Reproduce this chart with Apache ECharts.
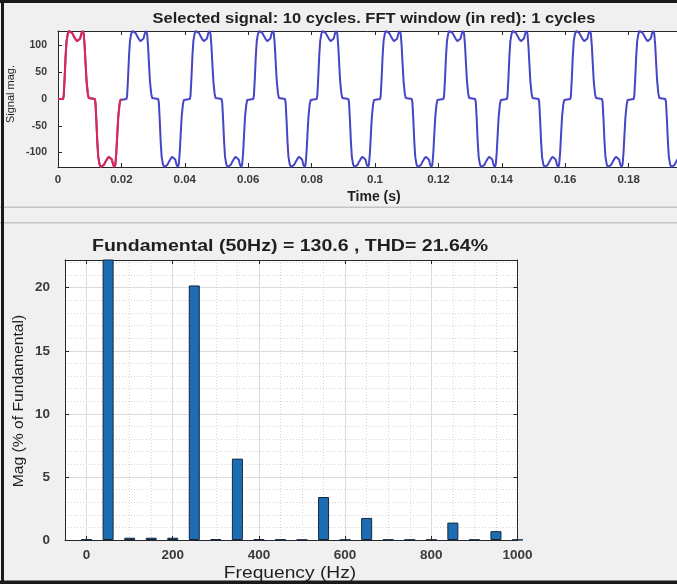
<!DOCTYPE html>
<html><head><meta charset="utf-8">
<script src="https://cdn.jsdelivr.net/npm/echarts@6/dist/echarts.min.js"></script>
<style>html,body{margin:0;padding:0;background:#f0f0f0;overflow:hidden}#c{width:677px;height:584px}</style>
</head><body><div id="c"></div>
<script>
// ---- Data ----
// one period (0.02 s) of the selected signal
const cycleTime = [0, 0.0016, 0.0018, 0.0021, 0.0024, 0.0027, 0.0031, 0.0035, 0.0040, 0.0045, 0.0050, 0.0055, 0.0060, 0.0066, 0.0070, 0.0074, 0.0078, 0.0081, 0.0084, 0.0087, 0.0090, 0.0094, 0.0097, 0.0100,
  0.0116, 0.0118, 0.0121, 0.0124, 0.0127, 0.0131, 0.0135, 0.0140, 0.0145, 0.0150, 0.0155, 0.0160, 0.0166, 0.0170, 0.0174, 0.0178, 0.0181, 0.0184, 0.0187, 0.0190, 0.0194, 0.0197];
const cycleValue = [0, 0, 6, 40, 80, 108, 122, 127, 127, 123, 117, 112, 108, 106, 113, 123, 127, 122, 100, 66, 34, 10, 2, 0,
  0, -6, -40, -80, -108, -122, -127, -127, -123, -117, -112, -108, -106, -113, -123, -127, -122, -100, -66, -34, -10, -2];
const period = 0.02;
const cycleCount = 10;   // selected signal: 10 cycles
const fftCycles = 1;     // FFT window (in red): 1 cycle

const timeTicks = [0, 0.02, 0.04, 0.06, 0.08, 0.1, 0.12, 0.14, 0.16, 0.18, 0.2];
const signalTicks = [-100, -50, 0, 50, 100];

const harmonicFreq = [0, 50, 100, 150, 200, 250, 300, 350, 400, 450, 500, 550, 600, 650, 700, 750, 800, 850, 900, 950, 1000];
const harmonicMag  = [0.04, 100, 0.18, 0.18, 0.18, 20.18, 0.06, 6.45, 0.05, 0.04, 0.02, 3.41, 0.02, 1.75, 0.02, 0.02, 0.02, 1.38, 0.02, 0.70, 0.02];
const freqTicks = [0, 200, 400, 600, 800, 1000];
const magTicks = [0, 5, 10, 15, 20];

const topTitle = 'Selected signal: 10 cycles. FFT window (in red): 1 cycles';
const bottomTitle = 'Fundamental (50Hz) = 130.6 , THD= 21.64%';

// ---- Build series data from the read cycle ----
function buildSignal(nCycles) {
  const out = [];
  for (let k = 0; k < nCycles; k++) {
    for (let i = 0; i < cycleTime.length; i++) {
      out.push([+(k * period + cycleTime[i]).toFixed(5), cycleValue[i]]);
    }
  }
  out.push([+(nCycles * period).toFixed(5), cycleValue[0]]);
  return out;
}
const signalData = buildSignal(cycleCount);
const fftData = buildSignal(fftCycles);
const barData = harmonicFreq.map((f, i) => [f, harmonicMag[i]]);

const axisColor = '#262626';
const labelColor = '#3a3a3a';
const font = 'Liberation Sans, Arial, sans-serif';
const plain = v => String(v);

function txt(x, y, text, f, opts) {
  return Object.assign({ type: 'text', x: x, y: y, z: 50,
    style: { text: text, font: f, fill: '#1f1f1f', align: 'center', verticalAlign: 'middle', textAlign: 'center', textVerticalAlign: 'middle' } }, opts || {});
}

const chart = echarts.init(document.getElementById('c'));
chart.setOption({
  backgroundColor: '#f0f0f0',
  animation: false,
  grid: [
    { left: 58, top: 31, width: 634, height: 136, show: true, backgroundColor: '#ffffff', borderWidth: 0, containLabel: false, outerBoundsMode: 'none' },
    { left: 65, top: 260, width: 452.5, height: 280, show: true, backgroundColor: '#ffffff', borderWidth: 0, containLabel: false, outerBoundsMode: 'none' }
  ],
  xAxis: [
    { gridIndex: 0, type: 'value', min: 0, max: 0.2, position: 'bottom',
      axisLine: { show: true, onZero: false, lineStyle: { color: axisColor, width: 1 } },
      axisTick: { show: true, inside: true, length: 4, customValues: timeTicks, lineStyle: { color: axisColor } },
      axisLabel: { customValues: timeTicks, formatter: plain, fontSize: 11.5, fontWeight: 'bold', color: labelColor, fontFamily: font, margin: 7 },
      splitLine: { show: false } },
    { gridIndex: 0, type: 'value', min: 0, max: 0.2, position: 'top',
      axisLine: { show: true, onZero: false, lineStyle: { color: axisColor, width: 1 } },
      axisTick: { show: true, inside: true, length: 4, customValues: timeTicks, lineStyle: { color: axisColor } },
      axisLabel: { show: false }, splitLine: { show: false } },
    { gridIndex: 1, type: 'value', min: -50, max: 1000, position: 'bottom',
      axisLine: { show: true, onZero: false, lineStyle: { color: axisColor, width: 1 } },
      axisTick: { show: true, inside: true, length: 4, customValues: freqTicks, lineStyle: { color: axisColor } },
      axisLabel: { customValues: freqTicks, formatter: plain, fontSize: 13.5, fontWeight: 'bold', color: labelColor, fontFamily: font, margin: 8 },
      splitLine: { show: true, lineStyle: { color: '#dcdcdc', width: 1 } },
      minorTick: { show: false, splitNumber: 4 },
      minorSplitLine: { show: true, lineStyle: { color: '#d4d4d4', width: 1, type: [1, 2] } } },
    { gridIndex: 1, type: 'value', min: -50, max: 1000, position: 'top',
      axisLine: { show: true, onZero: false, lineStyle: { color: axisColor, width: 1 } },
      axisTick: { show: true, inside: true, length: 4, customValues: freqTicks, lineStyle: { color: axisColor } },
      axisLabel: { show: false }, splitLine: { show: false } }
  ],
  yAxis: [
    { gridIndex: 0, type: 'value', min: -127, max: 127, position: 'left',
      axisLine: { show: true, onZero: false, lineStyle: { color: axisColor, width: 1 } },
      axisTick: { show: true, inside: true, length: 4, customValues: signalTicks, lineStyle: { color: axisColor } },
      axisLabel: { customValues: signalTicks, formatter: plain, fontSize: 10.5, fontWeight: 'bold', color: labelColor, fontFamily: font, margin: 11 },
      splitLine: { show: false } },
    { gridIndex: 1, type: 'value', min: 0, max: 22.2, position: 'left',
      axisLine: { show: true, onZero: false, lineStyle: { color: axisColor, width: 1 } },
      axisTick: { show: true, inside: true, length: 4, customValues: magTicks, lineStyle: { color: axisColor } },
      axisLabel: { customValues: magTicks, formatter: plain, fontSize: 13.5, fontWeight: 'bold', color: labelColor, fontFamily: font, margin: 15 },
      splitLine: { show: true, lineStyle: { color: '#dcdcdc', width: 1 } },
      minorTick: { show: false, splitNumber: 5 },
      minorSplitLine: { show: true, lineStyle: { color: '#d4d4d4', width: 1, type: [1, 2] } } },
    { gridIndex: 1, type: 'value', min: 0, max: 22.2, position: 'right',
      axisLine: { show: true, onZero: false, lineStyle: { color: axisColor, width: 1 } },
      axisTick: { show: true, inside: true, length: 4, customValues: magTicks, lineStyle: { color: axisColor } },
      axisLabel: { show: false }, splitLine: { show: false } }
  ],
  series: [
    { type: 'line', xAxisIndex: 0, yAxisIndex: 0, data: signalData, showSymbol: false, clip: true,
      lineStyle: { color: '#4545c5', width: 2 }, z: 3 },
    { type: 'line', xAxisIndex: 0, yAxisIndex: 0, data: fftData, showSymbol: false, clip: true,
      lineStyle: { color: '#e3264f', width: 2 }, z: 4 },
    { type: 'bar', xAxisIndex: 2, yAxisIndex: 1, data: barData, barWidth: 11, clip: true,
      itemStyle: { color: '#1d6db5', borderColor: '#14263a', borderWidth: 1 }, z: 3 }
  ],
  graphic: [
    txt(374, 19, topTitle, 'bold 15px ' + font, { scaleX: 1.1 }),
    txt(374, 197, 'Time (s)', 'bold 14px ' + font),
    txt(11, 94, 'Signal mag.', '11px ' + font, { rotation: Math.PI / 2 }),
    txt(290, 247, bottomTitle, 'bold 16px ' + font, { scaleX: 1.22 }),
    txt(19, 401, 'Mag (% of Fundamental)', '14px ' + font, { rotation: Math.PI / 2, scaleX: 1.12 }),
    txt(290, 574, 'Frequency (Hz)', '16px ' + font, { scaleX: 1.2 }),
    // panel separators
    { type: 'rect', z: 60, shape: { x: 0, y: 206.5, width: 677, height: 1.5 }, style: { fill: '#c4c4c4' } },
    { type: 'rect', z: 60, shape: { x: 0, y: 222, width: 677, height: 1.5 }, style: { fill: '#c4c4c4' } },
    // outer frame
    { type: 'rect', z: 70, shape: { x: 0, y: 0, width: 677, height: 3 }, style: { fill: '#1a1a1a' } },
    { type: 'rect', z: 70, shape: { x: 1, y: 0, width: 3, height: 584 }, style: { fill: '#1a1a1a' } },
    { type: 'rect', z: 70, shape: { x: 0, y: 580.5, width: 677, height: 3.5 }, style: { fill: '#1a1a1a' } }
  ]
});
</script></body></html>
